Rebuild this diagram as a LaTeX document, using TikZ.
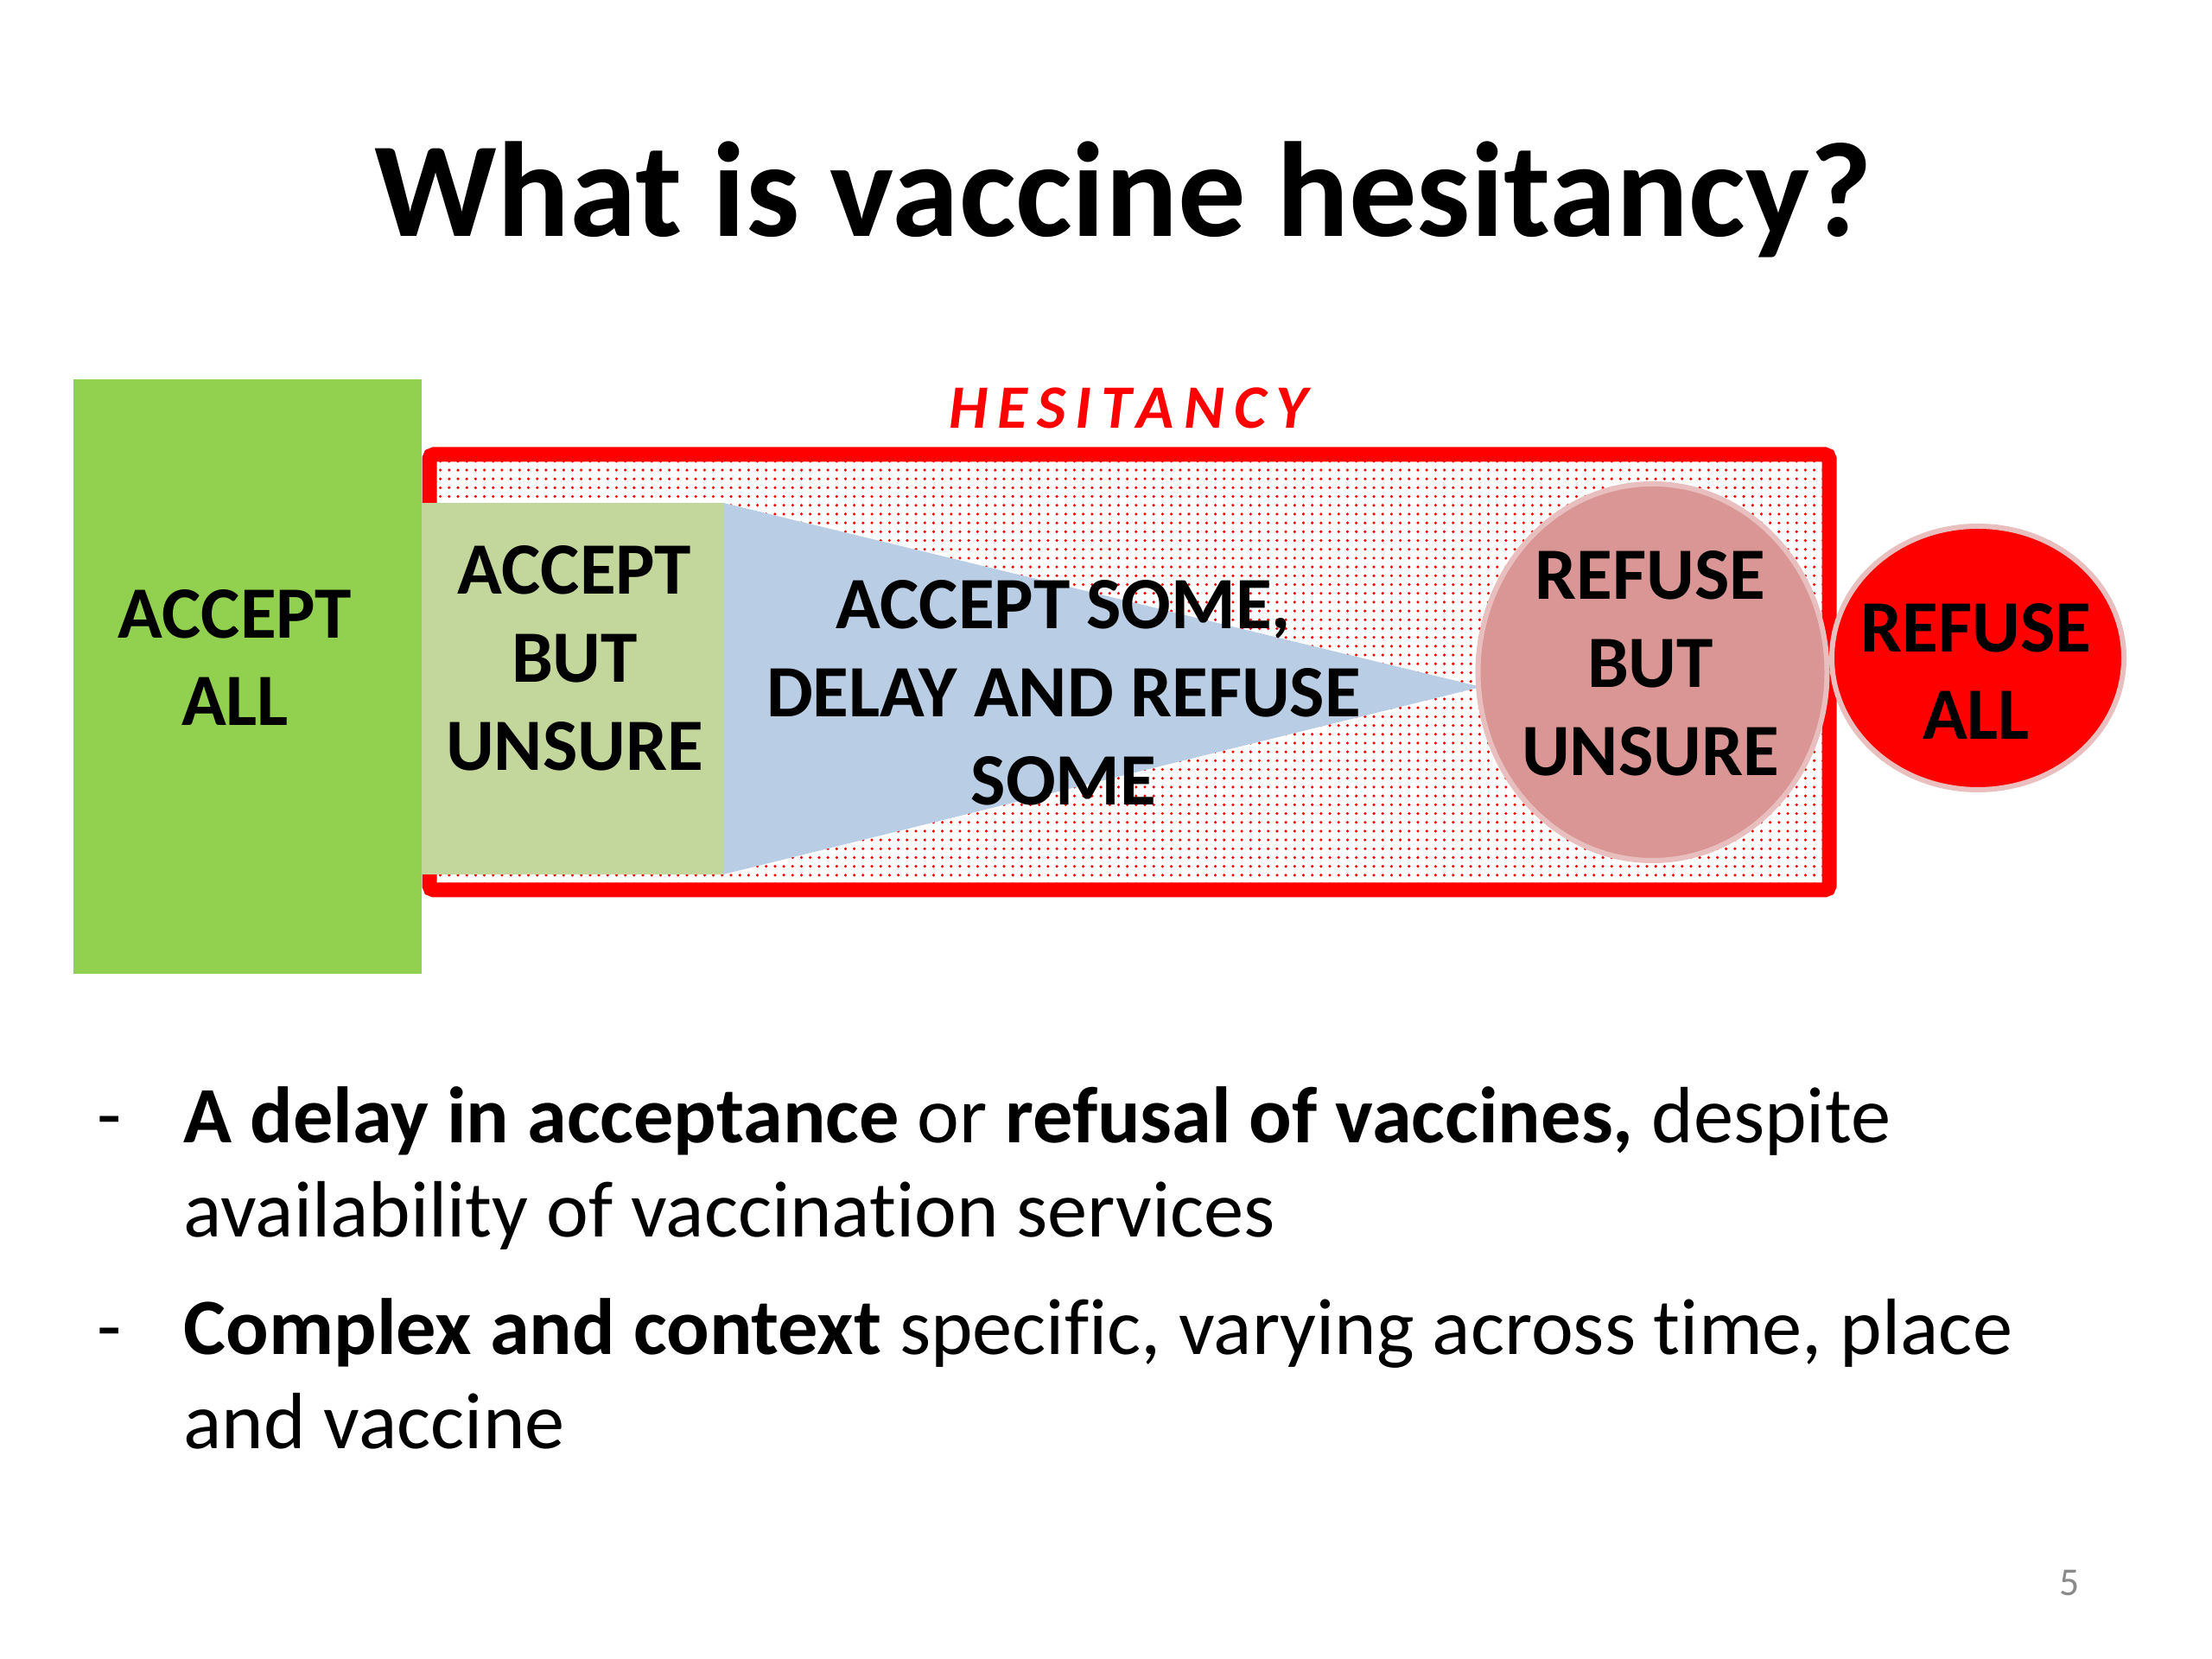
\documentclass[tikz,border=0pt]{standalone}
\usepackage{fontspec}
\setmainfont[Ligatures=NoCommon]{Carlito}
\newfontfamily\spacedfont[LetterSpace=15.5]{Carlito}
\usetikzlibrary{patterns}
\definecolor{acceptgreen}{RGB}{146,208,80}
\definecolor{unsuregreen}{RGB}{195,214,155}
\definecolor{delayblue}{RGB}{185,205,229}
\definecolor{refusepink}{RGB}{217,150,148}
\definecolor{bubbleedge}{RGB}{232,190,190}
\definecolor{pagegray}{RGB}{137,137,137}
% small red dots for the hesitancy band
\pgfdeclarepatternformonly{reddots}{\pgfqpoint{-0.6pt}{-0.6pt}}{\pgfqpoint{0.6pt}{0.6pt}}{\pgfqpoint{2.9pt}{2.9pt}}{%
	\pgfpathcircle{\pgfqpoint{0pt}{0pt}}{0.5pt}\pgfusepath{fill}}

\begin{document}
\begin{tikzpicture}[
		slidetext/.style={font=\fontsize{26.3}{31.2}\selectfont, inner sep=0pt},
		boxlabel/.style={font=\fontsize{24.3}{29}\selectfont\bfseries, align=center, inner sep=0pt},
		bubble/.style={draw=bubbleedge, line width=0.6mm}]
	\useasboundingbox (0,0) rectangle (25.6,19.2);
	% title
	\node[font=\fontsize{44.5}{52}\selectfont\bfseries, anchor=base, inner sep=0pt] (title) at (13.0,16.46) {What is vaccine hesitancy?};
	% hesitancy band
	\fill[pattern=reddots, pattern color=red] (4.97,8.90) rectangle (21.17,13.94);
	\draw[red, line width=0.17cm, rounded corners=0.5mm] (4.97,8.90) rectangle (21.17,13.94);
	\node[font=\spacedfont\fontsize{20.3}{24}\selectfont\bfseries\itshape, text=red, inner sep=0pt] (hesitancy) at (13.06,14.48) {HESITANCY};
	% accept all
	\fill[acceptgreen] (0.85,7.93) rectangle (4.88,14.81);
	\node[boxlabel] (acceptall) at (2.72,11.59) {ACCEPT\\ALL};
	% accept but unsure
	\fill[unsuregreen] (4.88,9.08) rectangle (8.37,13.38);
	\node[boxlabel] (acceptunsure) at (6.65,11.58) {ACCEPT\\BUT\\UNSURE};
	% delay wedge
	\fill[delayblue] (8.37,13.38) -- (17.14,11.25) -- (8.37,9.08) -- cycle;
	\node[boxlabel] (delay) at (12.31,11.18) {ACCEPT SOME,\\DELAY AND REFUSE\\SOME};
	% refuse bubbles
	\draw[bubble, fill=refusepink] (19.125,11.42) ellipse [x radius=2.02, y radius=2.18];
	\node[boxlabel] (refuseunsure) at (19.10,11.52) {REFUSE\\BUT\\UNSURE};
	\draw[bubble, fill=red] (22.89,11.585) ellipse [x radius=1.69, y radius=1.525];
	\node[boxlabel] (refuseall) at (22.87,11.43) {REFUSE\\ALL};
	% bullets (base is the last line)
	\foreach \y/\nm in {5.98/dashA,3.53/dashB}
		\node[slidetext, anchor=base] (\nm) at (1.27,\y) {-};
	\node[slidetext, anchor=base west, align=left] (bulletA) at (2.12,4.88) {\textbf{A delay in acceptance} or \textbf{refusal of vaccines,} despite\\availability of vaccination services};
	\node[slidetext, anchor=base west, align=left] (bulletB) at (2.12,2.43) {\textbf{Complex and context} specific, varying across time, place\\and vaccine};
	% page number
	\node[font=\fontsize{13}{15}\selectfont, text=pagegray, inner sep=0pt] (pagenum) at (23.95,0.88) {5};
\end{tikzpicture}
\end{document}
